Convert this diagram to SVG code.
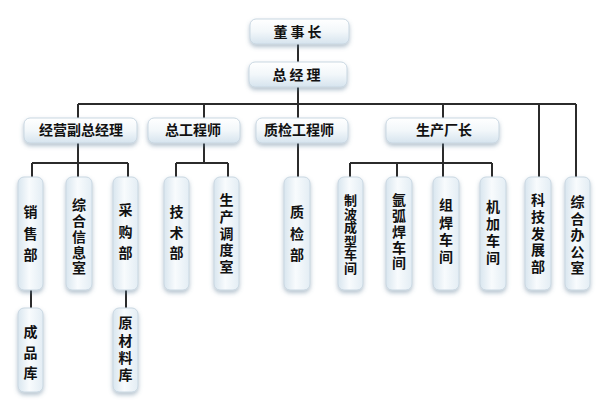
<svg xmlns="http://www.w3.org/2000/svg" width="600" height="410" viewBox="0 0 600 410">
<style>
.box{fill:url(#gh);stroke:#c9d7e2;stroke-width:1;filter:url(#sh)}
.vbox{fill:url(#gv);stroke:#c9d7e2;stroke-width:1;filter:url(#sh)}
.t{font-family:"Noto Sans CJK SC","Noto Sans CJK TC",sans-serif;font-size:14px;font-weight:bold;fill:#111;text-anchor:middle}
.v{font-family:"Noto Sans CJK SC","Noto Sans CJK TC",sans-serif;font-size:14px;font-weight:bold;fill:#111;writing-mode:vertical-rl;text-orientation:upright;text-anchor:start}
.c{stroke:#2b2b2b;stroke-width:2;fill:none}
</style>
<defs>
<linearGradient id="gh" x1="0" y1="0" x2="0" y2="1">
<stop offset="0" stop-color="#ffffff"/>
<stop offset="0.5" stop-color="#f2f7fa"/>
<stop offset="1" stop-color="#d6e4ee"/>
</linearGradient>
<linearGradient id="gv" x1="0" y1="0" x2="1" y2="0">
<stop offset="0" stop-color="#d9e6ef"/>
<stop offset="0.45" stop-color="#f8fbfd"/>
<stop offset="1" stop-color="#e3edf4"/>
</linearGradient>
<filter id="sh" x="-30%" y="-30%" width="160%" height="160%">
<feDropShadow dx="0" dy="2.5" stdDeviation="2" flood-color="#5a7a96" flood-opacity="0.45"/>
</filter>
</defs>
<rect width="600" height="410" fill="#ffffff"/>
<g id="connectors">
<path class="c" d="M298 44V62M298 87V104M78 104H576M78 104V118M204 104V118M298 104V118M443 104V118M539 104V177M576 104V177"/>
<path class="c" d="M78 143V163M32 163H128M32 163V177M78 163V177M128 163V177"/>
<path class="c" d="M204 143V163M176 163H228M176 163V177M228 163V177"/>
<path class="c" d="M298 143V177"/>
<path class="c" d="M443 143V163M350 163H492M350 163V177M397 163V177M443 163V177M492 163V177"/>
<path class="c" d="M31 290V308M126 290V308"/>
</g>
<g id="n_dsz"><rect class="box" x="250" y="19" width="99" height="25" rx="6"/><text class="t" x="299" y="37" letter-spacing="3">董事长</text></g>
<g id="n_zjl"><rect class="box" x="249" y="62" width="98" height="25" rx="6"/><text class="t" x="298" y="80" letter-spacing="3">总经理</text></g>
<g id="n_jyfzjl"><rect class="box" x="24" y="118" width="113" height="25" rx="6"/><text class="t" x="81" y="135">经营副总经理</text></g>
<g id="n_zgcs"><rect class="box" x="148" y="118" width="92" height="25" rx="6"/><text class="t" x="193" y="135">总工程师</text></g>
<g id="n_zjgcs"><rect class="box" x="256" y="118" width="92" height="25" rx="6"/><text class="t" x="299" y="135">质检工程师</text></g>
<g id="n_sccz"><rect class="box" x="386" y="118" width="113" height="25" rx="6"/><text class="t" x="444" y="135">生产厂长</text></g>
<g id="n_xsb"><rect class="vbox" x="18" y="177" width="25" height="113" rx="6"/><text class="v" x="30.5" y="204.7" letter-spacing="7.7">销售部</text></g>
<g id="n_zhxxs"><rect class="vbox" x="66" y="177" width="26" height="113" rx="6"/><text class="v" x="79" y="198" letter-spacing="1.75">综合信息室</text></g>
<g id="n_cgb"><rect class="vbox" x="113" y="177" width="25" height="113" rx="6"/><text class="v" x="125.5" y="203" letter-spacing="7.5">采购部</text></g>
<g id="n_jsb"><rect class="vbox" x="164" y="177" width="25" height="113" rx="6"/><text class="v" x="176.5" y="204.7" letter-spacing="6.7">技术部</text></g>
<g id="n_scdds"><rect class="vbox" x="214" y="177" width="25" height="113" rx="6"/><text class="v" x="226.5" y="193" letter-spacing="2.7">生产调度室</text></g>
<g id="n_zjb"><rect class="vbox" x="284" y="177" width="26" height="113" rx="6"/><text class="v" x="297" y="204.7" letter-spacing="7.7">质检部</text></g>
<g id="n_zbcx"><rect class="vbox" x="338" y="177" width="25" height="113" rx="6"/><text class="v" x="350.5" y="193.5" letter-spacing="0.6" style="font-size:13px">制波成型车间</text></g>
<g id="n_yhh"><rect class="vbox" x="386" y="177" width="26" height="113" rx="6"/><text class="v" x="399" y="193" letter-spacing="1.75">氩弧焊车间</text></g>
<g id="n_zh"><rect class="vbox" x="433" y="177" width="26" height="113" rx="6"/><text class="v" x="446" y="198" letter-spacing="3.2">组焊车间</text></g>
<g id="n_jj"><rect class="vbox" x="480" y="177" width="26" height="113" rx="6"/><text class="v" x="493" y="199.7" letter-spacing="3.1">机加车间</text></g>
<g id="n_kjfz"><rect class="vbox" x="525" y="177" width="26" height="113" rx="6"/><text class="v" x="538" y="193" letter-spacing="2.7">科技发展部</text></g>
<g id="n_zhbgs"><rect class="vbox" x="565" y="177" width="25" height="113" rx="6"/><text class="v" x="577.5" y="194.7" letter-spacing="2.6">综合办公室</text></g>
<g id="n_cpk"><rect class="vbox" x="18" y="308" width="25" height="84" rx="6"/><text class="v" x="30.5" y="324.7" letter-spacing="6.7">成品库</text></g>
<g id="n_ycll"><rect class="vbox" x="113" y="308" width="25" height="84" rx="6"/><text class="v" x="125.5" y="316" letter-spacing="3.3">原材料库</text></g>
</svg>
